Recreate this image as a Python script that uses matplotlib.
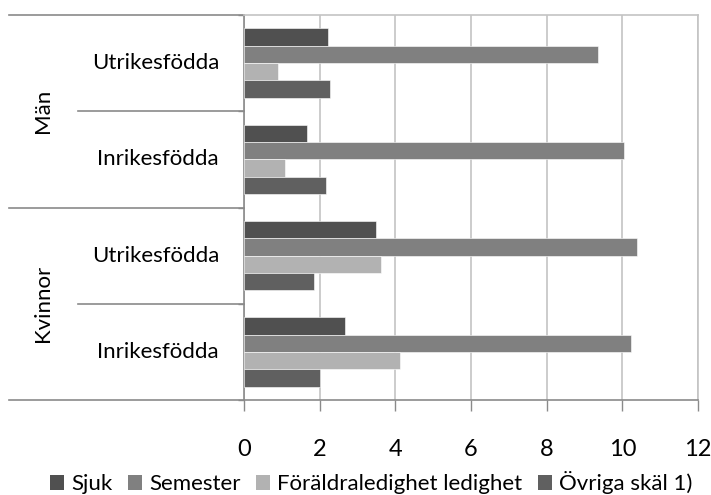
import matplotlib
matplotlib.use("Agg")
import matplotlib.pyplot as plt
import matplotlib.transforms as mtransforms
from matplotlib.lines import Line2D
from matplotlib.patches import Patch
import numpy as np

plt.rcParams['font.family'] = ['Lato', 'DejaVu Sans']

groups = ["Män", "Kvinnor"]
subgroups = ["Utrikesfödda", "Inrikesfödda", "Utrikesfödda", "Inrikesfödda"]
series = ["Sjuk", "Semester", "Föräldraledighet ledighet", "Övriga skäl 1)"]
sjuk = [2.23, 1.66, 3.49, 2.68]
semester = [9.35, 10.05, 10.40, 10.23]
foraldra = [0.91, 1.09, 3.63, 4.13]
ovriga = [2.26, 2.16, 1.84, 2.01]
values = [sjuk, semester, foraldra, ovriga]
colors = ["#505050", "#808080", "#b2b2b2", "#606060"]
xticks = [0, 2, 4, 6, 8, 10, 12]

W, H = 711, 495
fig = plt.figure(figsize=(W / 100, H / 100), dpi=100)
ax = fig.add_axes([244 / W, (H - 400) / H, (698 - 244) / W, (400 - 15) / H])

n = len(subgroups)
y = np.arange(n)
h = 0.18
offsets = [-1.5 * h, -0.5 * h, 0.5 * h, 1.5 * h]
for vals, col, off, name in zip(values, colors, offsets, series):
    ax.barh(y + off, vals, height=h, color=col, label=name, zorder=3,
            edgecolor="white", linewidth=0.4)

ax.set_xlim(0, 12)
ax.set_ylim(n - 0.5, -0.5)
ax.set_xticks(xticks)
ax.set_xticklabels([str(t) for t in xticks], fontsize=17)
ax.set_yticks(np.arange(-0.5, n, 1.0))
ax.set_yticklabels([])
ax.tick_params(axis="x", direction="out", length=8, width=1, color="#8a8a8a",
               pad=20, labelcolor="black")
ax.tick_params(axis="y", direction="out", length=4, width=1, color="#8a8a8a")
ax.grid(axis="x", color="#c4c4c4", linewidth=1.2, zorder=0)
for s in ["top", "right"]:
    ax.spines[s].set_color("#c4c4c4")
    ax.spines[s].set_linewidth(1.2)
for s in ["left", "bottom"]:
    ax.spines[s].set_color("#8a8a8a")
    ax.spines[s].set_linewidth(1.2)

# hierarchical category axis
trans = mtransforms.blended_transform_factory(fig.transFigure, ax.transData)
for yb in np.arange(-0.5, n, 1.0):
    major = (int(round(yb + 0.5)) % 2 == 0)
    x0 = 9 / W if major else 78 / W
    ax.add_line(Line2D([x0, 244 / W], [yb, yb], transform=trans,
                       color="#8a8a8a", linewidth=1.2, clip_on=False))
for i, lab in enumerate(subgroups):
    ax.text(219 / W, i, lab, transform=trans, ha="right", va="center",
            fontsize=16)
for j, g in enumerate(groups):
    ax.text(43 / W, 2 * j + 0.5, g, transform=trans, ha="center",
            va="center", rotation=90, fontsize=16)

handles = [Patch(facecolor=c, edgecolor="none") for c in colors]
fig.legend(handles, series, loc="center", bbox_to_anchor=(371 / W, (H - 483) / H),
           ncol=4, frameon=False, fontsize=16, handlelength=0.65,
           handleheight=0.65, handletextpad=0.3, columnspacing=0.7,
           borderpad=0, borderaxespad=0)

fig.savefig("out.png", dpi=100)
